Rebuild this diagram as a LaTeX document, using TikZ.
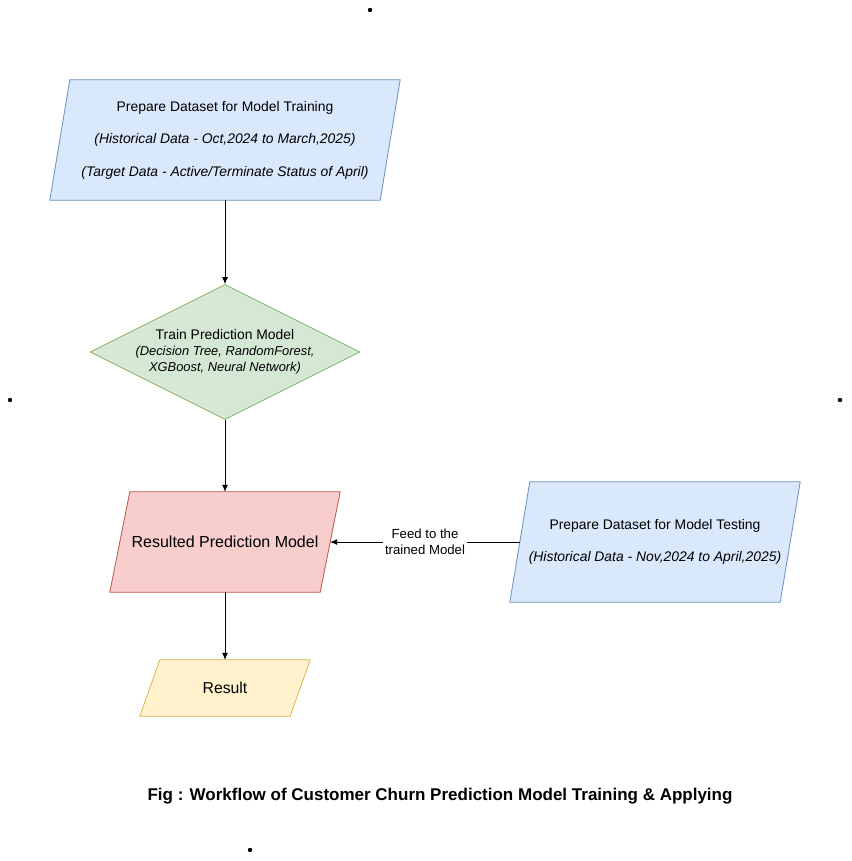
\documentclass[tikz,border=0pt]{standalone}
\usepackage{fontspec}
\setmainfont{Liberation Sans}
\usetikzlibrary{shapes.geometric,arrows.meta,backgrounds}
\definecolor{blueF}{HTML}{DAE8FC}
\definecolor{blueD}{HTML}{6C8EBF}
\definecolor{greenF}{HTML}{D5E8D4}
\definecolor{greenD}{HTML}{82B366}
\definecolor{redF}{HTML}{F8CECC}
\definecolor{redD}{HTML}{B85450}
\definecolor{yellowF}{HTML}{FFF2CC}
\definecolor{yellowD}{HTML}{D6B656}
\newcommand{\smit}{\fontsize{12.9}{15.5}\selectfont\itshape}
\newcommand{\parabox}[2]{%
  \path [draw=#2D, fill=#2F, line width=0.8pt]
    ([xshift=10]#1.north west) -- ([xshift=10]#1.north east) --
    ([xshift=-10]#1.south east) -- ([xshift=-10]#1.south west) -- cycle;}
\begin{document}
\begin{tikzpicture}[x=1pt,y=-1pt,
  every node/.style={font=\fontsize{13.9}{16}\selectfont, align=center, inner sep=0pt},
  flow/.style={-{Latex[length=7pt,width=6pt]}, line width=0.8pt}]
\useasboundingbox (0,0) rectangle (851,861);
\fill (370,10) circle (2.2);
\fill (10,400) circle (2.2);
\fill (840,400) circle (2.2);
\fill (250,850) circle (2.2);
\node [minimum width=330, minimum height=120] (train) at (225,140)
  {Prepare Dataset for Model Training\\[16pt]
   \textit{(Historical Data - Oct,2024 to March,2025)}\\[17pt]
   \textit{(Target Data - Active/Terminate Status of April)}};
\node [diamond, draw=greenD, fill=greenF, line width=0.8pt, aspect=2,
  minimum width=270, minimum height=135] (model) at (225,352)
  {\fontsize{13.9}{15.5}\selectfont Train Prediction Model\\
   \smit (Decision Tree, RandomForest,\\
   \smit XGBoost, Neural Network)};
\node [minimum width=210, minimum height=100, font=\fontsize{16}{18}\selectfont] (result) at (225,542)
  {Resulted Prediction Model};
\node [minimum width=150, minimum height=56, font=\fontsize{15.8}{18}\selectfont] (out) at (225,688)
  {Result};
\node [minimum width=270, minimum height=120] (test) at (655,542)
  {Prepare Dataset for Model Testing\\[16pt]
   \textit{(Historical Data - Nov,2024 to April,2025)}};
\begin{scope}[on background layer]
\parabox{train}{blue}
\parabox{result}{red}
\parabox{out}{yellow}
\parabox{test}{blue}
\end{scope}
\draw [flow] (train.south) -- (model.north);
\draw [flow] (model.south) -- (result.north);
\draw [flow] (result.south) -- (out.north);
\draw [flow] (test.west) -- node [fill=white, inner sep=2pt, font=\fontsize{13.2}{16}\selectfont]
  {Feed to the\\trained Model} (result.east);
\node [font=\fontsize{17}{20}\selectfont\bfseries] (caption) at (440,796)
  {Fig : Workflow of Customer Churn Prediction Model Training \& Applying};
\end{tikzpicture}
\end{document}
